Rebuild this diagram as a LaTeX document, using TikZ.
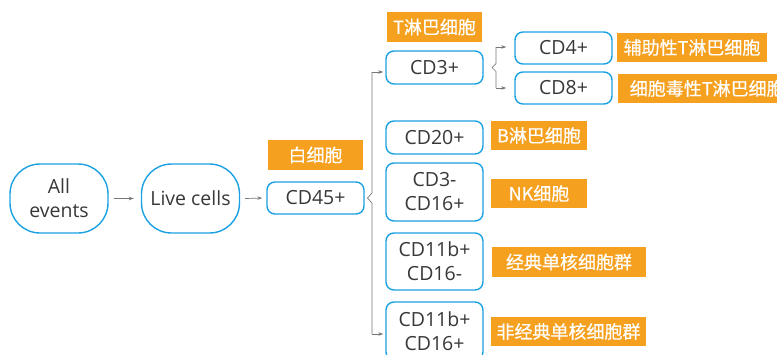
\documentclass[tikz,border=0pt]{standalone}
\usepackage{fontspec}
\setmainfont{Open Sans}
\newfontfamily\cjk[FakeBold=0.5]{Noto Sans CJK SC}
\usetikzlibrary{arrows.meta}
\definecolor{bblue}{HTML}{1BA1E2}
\definecolor{lorange}{HTML}{F5A01E}
\definecolor{tgray}{HTML}{383838}
\definecolor{agray}{HTML}{777777}
\tikzset{
  box/.style={draw=bblue, line width=1.4pt, rounded corners=8pt, fill=white,
    text=tgray, font=\fontsize{19.5}{24}\selectfont, align=center,
    minimum width=97pt, inner sep=0pt},
  oval/.style={box, rounded corners=30pt, minimum width=98pt, minimum height=69pt},
  lbl/.style={fill=lorange, text=white, font=\cjk\fontsize{18}{20}\selectfont,
    inner sep=0pt, minimum height=29.5pt},
  arr/.style={draw=agray, line width=0.7pt, -{Stealth[length=5pt,width=3.5pt]}},
  brc/.style={draw=agray, line width=0.7pt}
}
\begin{document}
\begin{tikzpicture}[x=1pt,y=-1pt]
\useasboundingbox (0,0) rectangle (777,354);
\clip (0,0) rectangle (777,354);
% main boxes
\node[oval] (all) at (59,198.5) {All\\events};
\node[oval] (live) at (190.5,198.5) {Live cells};
\node[box, minimum height=32pt] (cd45) at (315.5,198) {CD45+};
\node[lbl, minimum width=95pt] (l45) at (315.5,155) {白细胞};
\node[box, minimum height=33pt] (cd3) at (434.5,67.5) {CD3+};
\node[lbl, minimum width=95pt] (l3) at (434.5,27) {T淋巴细胞};
\node[box, minimum height=32pt] (cd4) at (563.5,48) {CD4+};
\node[box, minimum height=32pt] (cd8) at (563.5,88) {CD8+};
\node[lbl, minimum width=150pt] (l4) at (692,47.5) {辅助性T淋巴细胞};
\node[lbl, minimum width=172pt, anchor=west] (l8) at (618,88.5) {\hspace*{6pt}细胞毒性T淋巴细胞\hfill};
\node[box, minimum height=33pt] (cd20) at (434.5,137.5) {CD20+};
\node[lbl, minimum width=96pt] (l20) at (539,135.5) {B淋巴细胞};
\node[box, minimum height=58pt] (nk) at (434.5,192) {CD3-\\CD16+};
\node[lbl, minimum width=96pt] (lnk) at (539,193.5) {NK细胞};
\node[box, minimum height=57pt] (cm) at (434.5,261.5) {CD11b+\\CD16-};
\node[lbl, minimum width=154pt] (lcm) at (569,262) {经典单核细胞群};
\node[box, minimum height=58pt] (ncm) at (434.5,331) {CD11b+\\CD16+};
\node[lbl, minimum width=155pt] (lncm) at (568.5,331.5) {非经典单核细胞群};
% arrows
\draw[arr] ([xshift=5pt]all.east) -- ([xshift=-7pt]live.west);
\draw[arr] ([xshift=5pt]live.east) -- ([xshift=-4pt]cd45.west);
% big brace
\coordinate (bt) at (372,72);
\coordinate (bb) at (372,334);
\coordinate (bk) at (367.5,198);
\draw[brc] (bt) -- (372,193) -- (bk) -- (372,203) -- (bb);
\draw[arr] (bt) -- ([xshift=-2pt]cd3.west |- bt);
\draw[arr] (bb) -- ([xshift=-2pt]ncm.west |- bb);
% small brace
\coordinate (st) at (496,47);
\coordinate (sb) at (496,88);
\coordinate (sk) at (492,67.5);
\draw[brc] (st) -- (496,63.5) -- (sk) -- (496,71.5) -- (sb);
\draw[arr] (st) -- ([xshift=-8pt]cd4.west |- st);
\draw[arr] (sb) -- ([xshift=-8pt]cd8.west |- sb);
\end{tikzpicture}
\end{document}
